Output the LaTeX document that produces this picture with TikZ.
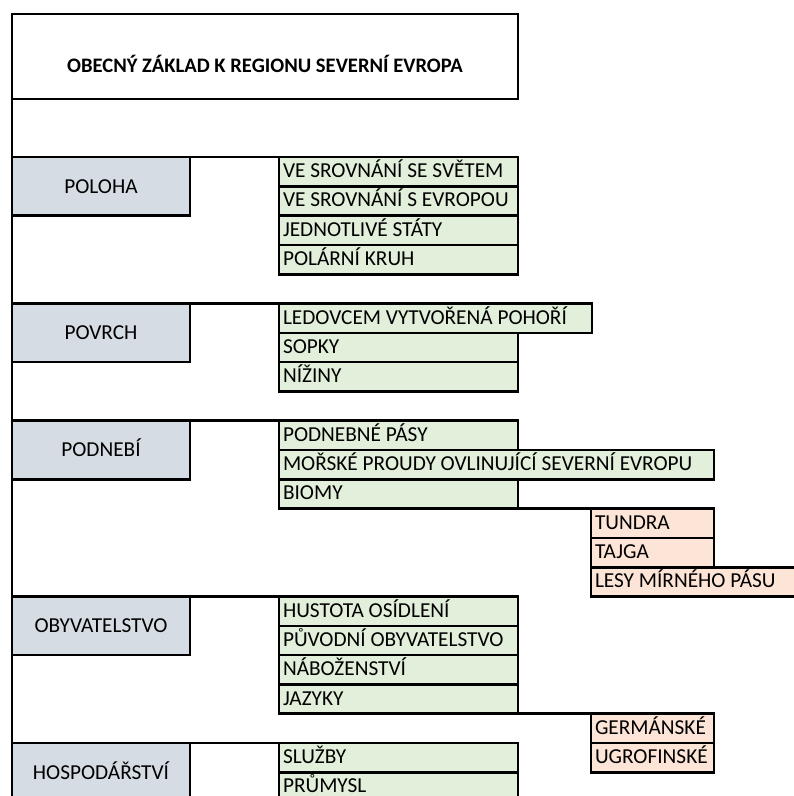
\documentclass[tikz,border=0pt]{standalone}
\usepackage{fontspec}
\setmainfont{Carlito}
\usepackage{xcolor}
\usetikzlibrary{positioning}

\definecolor{catblue}{HTML}{D6DCE4}
\definecolor{itemgreen}{HTML}{E2EFDA}
\definecolor{subpink}{HTML}{FCE4D6}

\begin{document}
\begin{tikzpicture}[x=1pt, y=-1pt,
    font=\fontsize{21.3}{25}\selectfont,
    rule/.style={line width=2.6pt, draw=black},
    cat/.style={rule, fill=catblue, anchor=north west, outer sep=0pt, inner sep=0pt,
      minimum width=178pt, minimum height=58.6pt, text height=13.7pt, text depth=0pt},
    item/.style={rule, fill=itemgreen, anchor=north west, outer sep=0pt, inner xsep=4pt,
      inner ysep=0pt, text width=#1, align=flush left, minimum height=29.3pt,
      text height=15pt, text depth=3pt},
    item/.default=231pt,
    sub/.style={item=#1, fill=subpink},
    sub/.default=115pt
  ]
  \useasboundingbox (0,0) rectangle (794,796);

  % header
  \node[rule, anchor=north west, outer sep=0pt, inner sep=0pt,
    minimum width=506pt, minimum height=85pt] (title) at (12,14) {};
  \node[anchor=base, font=\fontsize{20.6}{24}\selectfont\bfseries] (titletext) at (265,72)
    {OBECNÝ ZÁKLAD K REGIONU SEVERNÍ EVROPA};
  \coordinate (spine) at (12,812);
  \draw[rule] (title.south west) -- (spine);

  % poloha
  \node[cat] (poloha) at (12,157) {POLOHA};
  \node[item, right=89pt of poloha.north east, anchor=north west] (polA) {VE SROVNÁNÍ SE SVĚTEM};
  \node[item] (polB) at (polA.south west) {VE SROVNÁNÍ S EVROPOU};
  \node[item] (polC) at (polB.south west) {JEDNOTLIVÉ STÁTY};
  \node[item] (polD) at (polC.south west) {POLÁRNÍ KRUH};
  \draw[rule] (poloha.north east) -- (polA.north west);

  % povrch
  \node[cat] (povrch) at (12,303.5) {POVRCH};
  \node[item=305pt, right=89pt of povrch.north east, anchor=north west] (povA) {LEDOVCEM VYTVOŘENÁ POHOŘÍ};
  \node[item] (povB) at (povA.south west) {SOPKY};
  \node[item] (povC) at (povB.south west) {NÍŽINY};
  \draw[rule] (povrch.north east) -- (povA.north west);

  % podnebi
  \node[cat] (podnebi) at (12,420.7) {PODNEBÍ};
  \node[item, right=89pt of podnebi.north east, anchor=north west] (podA) {PODNEBNÉ PÁSY};
  \node[item=427pt] (podB) at (podA.south west) {MOŘSKÉ PROUDY OVLINUJÍCÍ SEVERNÍ EVROPU};
  \node[item] (podC) at (podB.south west) {BIOMY};
  \draw[rule] (podnebi.north east) -- (podA.north west);

  \node[sub, right=73pt of podC.south east, anchor=north west] (tundra) {TUNDRA};
  \node[sub] (tajga) at (tundra.south west) {TAJGA};
  \node[sub=230pt] (lesy) at (tajga.south west) {LESY MÍRNÉHO PÁSU};
  \draw[rule] (podC.south east) -- (tundra.north west);

  % obyvatelstvo
  \node[cat] (obyv) at (12,596.5) {OBYVATELSTVO};
  \node[item, right=89pt of obyv.north east, anchor=north west] (obyA) {HUSTOTA OSÍDLENÍ};
  \node[item] (obyB) at (obyA.south west) {PŮVODNÍ OBYVATELSTVO};
  \node[item] (obyC) at (obyB.south west) {NÁBOŽENSTVÍ};
  \node[item] (obyD) at (obyC.south west) {JAZYKY};
  \draw[rule] (obyv.north east) -- (obyA.north west);

  \node[sub, right=73pt of obyD.south east, anchor=north west] (germ) {GERMÁNSKÉ};
  \node[sub] (ugro) at (germ.south west) {UGROFINSKÉ};
  \draw[rule] (obyD.south east) -- (germ.north west);

  % hospodarstvi
  \node[cat] (hosp) at (12,743) {HOSPODÁŘSTVÍ};
  \node[item, right=89pt of hosp.north east, anchor=north west] (hosA) {SLUŽBY};
  \node[item] (hosB) at (hosA.south west) {PRŮMYSL};
  \draw[rule] (hosp.north east) -- (hosA.north west);
\end{tikzpicture}
\end{document}
